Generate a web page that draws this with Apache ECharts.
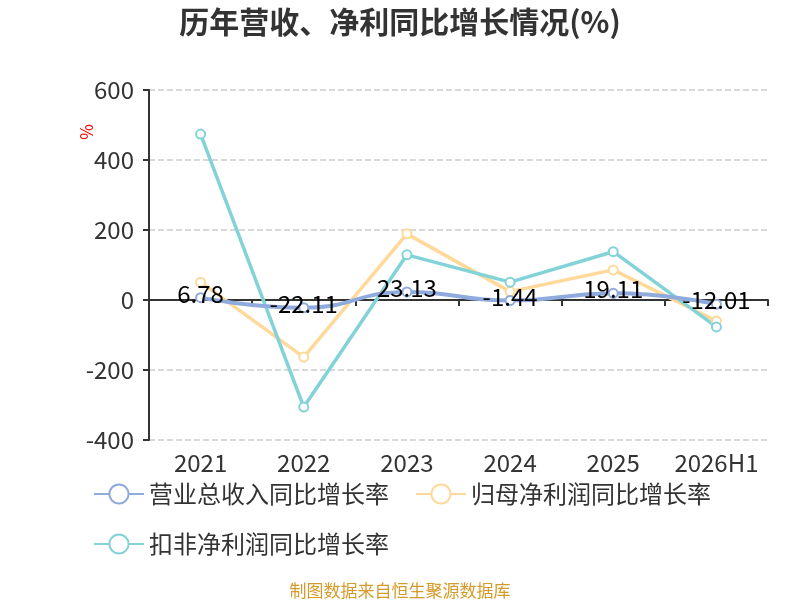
<!DOCTYPE html>
<html>
<head>
<meta charset="utf-8">
<script src="https://cdn.jsdelivr.net/npm/echarts@6/dist/echarts.min.js"></script>
<style>
html,body{margin:0;padding:0;background:#fff;}
#main{width:800px;height:600px;}
</style>
</head>
<body>
<div id="main"></div>
<script>
var years = ['2021', '2022', '2023', '2024', '2025', '2026H1'];
var revenueGrowth = [6.78, -22.11, 23.13, -1.44, 19.11, -12.01];
var netProfitGrowth = [51, -163, 189, 24, 86, -60];
var deductedProfitGrowth = [474, -306, 129, 51, 138, -77];
var seriesNames = ['营业总收入同比增长率', '归母净利润同比增长率', '扣非净利润同比增长率'];

var font = '"Noto Sans CJK SC", "Noto Sans", sans-serif';
var myChart = echarts.init(document.getElementById('main'));

var option = {
    backgroundColor: '#fff',
    color: ['#8FAADC', '#FFD999', '#82D3D7'],
    textStyle: { fontFamily: font },
    title: [{
        text: '历年营收、净利同比增长情况(%)',
        left: 'center',
        top: 2,
        textStyle: { fontSize: 30, fontWeight: 'bold', color: '#333', fontFamily: font }
    }, {
        text: '制图数据来自恒生聚源数据库',
        left: 'center',
        top: 577,
        textStyle: { fontSize: 17, fontWeight: 'normal', color: '#D49B2A', fontFamily: font }
    }],
    graphic: [{
        type: 'text',
        left: 78,
        top: 124,
        rotation: Math.PI / 2,
        style: { text: '%', fill: '#ff0000', fontSize: 17, fontFamily: font }
    }],
    legend: {
        left: 88,
        top: 477,
        width: 690,
        itemWidth: 50,
        itemHeight: 24,
        itemGap: 26,
        textStyle: { fontSize: 24, color: '#333', fontFamily: font },
        data: seriesNames
    },
    grid: {
        left: 149,
        right: 32,
        top: 90,
        bottom: 160,
        containLabel: false,
        outerBoundsMode: 'none'
    },
    xAxis: {
        type: 'category',
        data: years,
        axisLine: { onZero: true, lineStyle: { color: '#333', width: 2 } },
        axisTick: { show: true, length: 6, lineStyle: { color: '#333', width: 2 } },
        axisLabel: { interval: 0, margin: 11, fontSize: 24, color: '#333', fontFamily: font },
        splitLine: { show: false }
    },
    yAxis: {
        type: 'value',
        min: -400,
        max: 600,
        interval: 200,
        axisLine: { show: true, lineStyle: { color: '#333', width: 2 } },
        axisTick: { show: true, length: 6, lineStyle: { color: '#333', width: 2 } },
        axisLabel: { fontSize: 24, color: '#333', margin: 15, fontFamily: font },
        splitLine: { lineStyle: { color: '#ccc', type: 'dashed', width: 1.5 } }
    },
    series: [{
        name: seriesNames[0],
        type: 'line',
        smooth: true,
        symbol: 'emptyCircle',
        symbolSize: 9,
        lineStyle: { width: 4 },
        label: {
            show: true,
            position: 'inside',
            offset: [0, -4],
            fontSize: 24,
            color: '#000',
            fontFamily: font
        },
        z: 3,
        data: revenueGrowth
    }, {
        name: seriesNames[1],
        type: 'line',
        symbol: 'emptyCircle',
        symbolSize: 9,
        lineStyle: { width: 3.5 },
        z: 2,
        data: netProfitGrowth
    }, {
        name: seriesNames[2],
        type: 'line',
        symbol: 'emptyCircle',
        symbolSize: 9,
        lineStyle: { width: 3.5 },
        z: 2,
        data: deductedProfitGrowth
    }]
};
myChart.setOption(option);
</script>
</body>
</html>
